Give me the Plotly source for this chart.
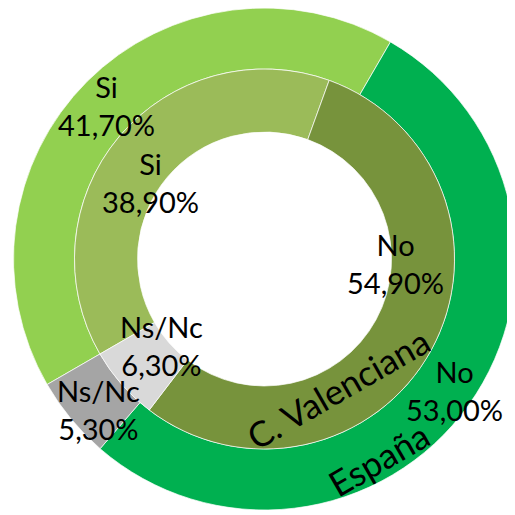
import plotly.graph_objects as go

categories = ["Si", "No", "Ns/Nc"]
espana_values = [41.70, 53.00, 5.30]
valenciana_values = [38.90, 54.90, 6.30]
series_names = ["España", "C. Valenciana"]

outer_colors = ["#92D050", "#00B050", "#A5A5A5"]
inner_colors = ["#9BBB59", "#77933C", "#D9D9D9"]

W = H = 515
OFF = 8  # page body margin
cx, cy = 264.5 - OFF, 259.0 - OFF
R_out, R_mid, R_in = 251.0, 190.0, 127.0


def dom(r):
    return dict(x=[max(0, (cx - r) / W), min(1, (cx + r) / W)],
                y=[max(0, 1 - (cy + r) / H), min(1, 1 - (cy - r) / H)])


def fmt(cat, v):
    return f"{cat}<br>{v:.2f}%".replace(".", ",")


fig = go.Figure()
fig.add_trace(go.Pie(
    labels=categories, values=espana_values, name=series_names[0],
    sort=False, direction="clockwise", rotation=240,
    hole=R_mid / R_out, domain=dom(R_out),
    marker=dict(colors=outer_colors, line=dict(color="white", width=0.7)),
    textinfo="none", hoverinfo="none", showlegend=False,
))
fig.add_trace(go.Pie(
    labels=categories, values=valenciana_values, name=series_names[1],
    sort=False, direction="clockwise", rotation=240,
    hole=R_in / R_mid, domain=dom(R_mid),
    marker=dict(colors=inner_colors, line=dict(color="white", width=0.7)),
    textinfo="none", hoverinfo="none", showlegend=False,
))

# label positions (page pixels) for each slice label
outer_label_pos = [(106, 106), (454, 390), (98, 409)]
inner_label_pos = [(150, 182), (395, 263), (161, 345)]
series_label_pos = [(378, 459), (338, 388)]
series_label_angle = -30

font = dict(family="Lato, 'Open Sans', sans-serif", size=29, color="black")
big_font = dict(family="Lato, 'Open Sans', sans-serif", size=35, color="black")
ann = []


def pos(px, py):
    return (px - OFF) / W, 1 - (py - OFF) / H


for (px, py), c, v in zip(outer_label_pos, categories, espana_values):
    x, y = pos(px, py)
    ann.append(dict(x=x, y=y, xref="paper", yref="paper",
                    text=fmt(c, v), showarrow=False, font=font,
                    xanchor="center", yanchor="middle"))
for (px, py), c, v in zip(inner_label_pos, categories, valenciana_values):
    x, y = pos(px, py)
    ann.append(dict(x=x, y=y, xref="paper", yref="paper",
                    text=fmt(c, v), showarrow=False, font=font,
                    xanchor="center", yanchor="middle"))
for (px, py), name in zip(series_label_pos, series_names):
    x, y = pos(px, py)
    ann.append(dict(x=x, y=y, xref="paper", yref="paper",
                    text=name, showarrow=False, font=big_font, textangle=series_label_angle,
                    xanchor="center", yanchor="middle"))

fig.update_layout(
    width=W, height=H, margin=dict(l=0, r=0, t=0, b=0),
    paper_bgcolor="white", plot_bgcolor="white",
    annotations=ann, showlegend=False,
)
fig.write_html("out.html")
